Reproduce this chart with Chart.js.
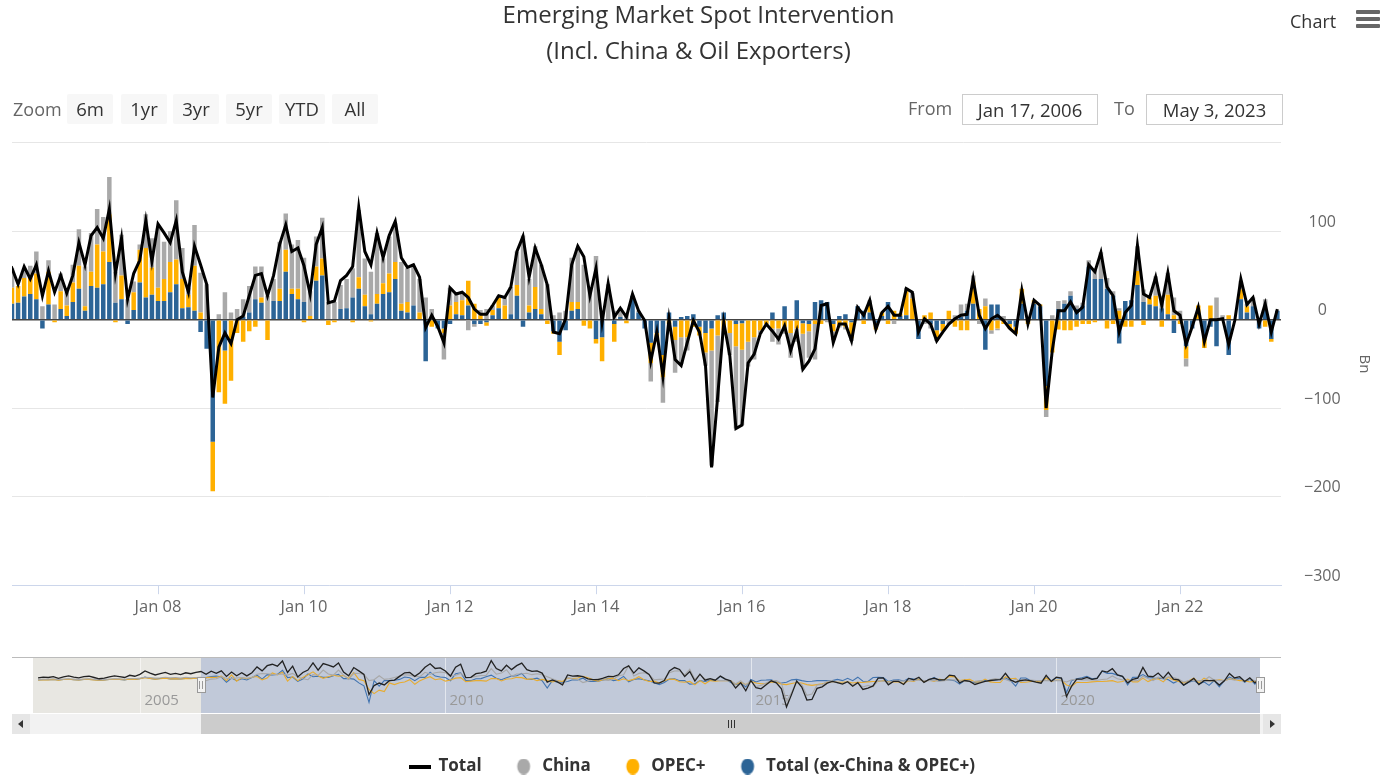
<!DOCTYPE html>
<html><head><meta charset="utf-8">
<script src="https://cdn.jsdelivr.net/npm/chart.js@4.4.0/dist/chart.umd.min.js"></script>
<style>
html,body{margin:0;padding:0;background:#fff;}
body{width:1385px;height:777px;position:relative;overflow:hidden;font-family:'Open Sans',sans-serif;}
#main{position:absolute;left:0;top:0;width:1385px;height:640px;}
#nav{position:absolute;left:0;top:640px;width:1385px;height:145px;}
.btn{position:absolute;top:94px;height:30px;width:46px;background:#f7f7f7;color:#333;font-size:18.5px;line-height:30px;text-align:center;border-radius:2px;}
.lbl{position:absolute;color:#666;font-size:18px;line-height:24px;}
.inp{position:absolute;top:94px;height:29px;border:1px solid #ccc;color:#333;font-size:18.5px;line-height:29px;text-align:center;background:#fff;}
.menu{position:absolute;left:1290px;top:9px;color:#333;font-size:18px;line-height:24px;}
.bar{position:absolute;left:1356px;width:24px;height:4px;background:#666;border-radius:1px;}
</style></head><body>
<div id="main"><canvas id="c1"></canvas></div>
<div id="nav"><canvas id="c2"></canvas></div>
<div class="lbl" style="left:13px;top:97px">Zoom</div>
<div class="btn" style="left:67px">6m</div>
<div class="btn" style="left:121px">1yr</div>
<div class="btn" style="left:173px">3yr</div>
<div class="btn" style="left:226px">5yr</div>
<div class="btn" style="left:279px">YTD</div>
<div class="btn" style="left:332px">All</div>
<div class="lbl" style="left:908px;top:96px">From</div>
<div class="inp" style="left:962px;width:134px">Jan 17, 2006</div>
<div class="lbl" style="left:1114px;top:96px">To</div>
<div class="inp" style="left:1146px;width:135px">May 3, 2023</div>
<div class="menu">Chart</div>
<div class="bar" style="top:10px"></div>
<div class="bar" style="top:17px"></div>
<div class="bar" style="top:24px"></div>
<script>
// ---- DATA (monthly, Apr 2003 .. Apr 2023; values in Bn) ----
// first value is April 2003; the main chart window starts Jan 2006
const firstMonth = '2003-04';
const total = [
 18,22,20,26,15,24,30,22,18,25,28,20,12,16,24,30,26,20,34,28,40,62,48,36,44,52,40,46,38,50,44,52,58,
 40,60,46,62,27,55,31,50,30,50,
 87,62,95,104,92,125,52,92,23,52,
 67,112,66,108,98,87,112,54,31,83,
 62,40,-88,-31,-15,-27,0,4,27,50,
 52,27,50,85,107,77,81,61,29,85,
 104,19,21,44,50,60,127,77,62,98,
 70,95,111,70,59,62,48,-9,5,-8,
 -26,36,29,31,25,12,6,6,16,27,
 25,37,77,94,48,81,62,39,-14,-16,
 1,62,83,71,27,58,-3,41,3,13,
 3,29,10,-1,-47,-14,-64,1,-45,-52,
 -26,-1,-14,-52,-167,-87,-3,-41,-123,-119,
 -49,-39,-16,-5,-13,-22,-7,-35,-13,-56,
 -47,-33,16,18,-26,-5,-5,-24,14,5,
 22,-11,8,15,5,5,35,31,-14,1,
 -5,-24,-14,-5,1,5,6,46,5,-10,
 1,5,-1,-10,-16,33,-5,22,16,-100,
 -35,10,10,20,8,14,62,54,76,37,
 27,-14,8,16,84,29,25,48,16,53,
 10,5,-28,-8,14,-25,0,0,1,-28,
 -1,46,17,25,-5,18,-14,12
];
const china = [
 8,10,9,12,8,10,12,10,8,10,12,9,6,8,10,12,11,9,14,12,16,22,20,16,18,22,18,20,16,22,18,20,22,
 0,10,12,25,15,13,17,20,15,20,
 41,45,44,40,39,42,35,46,23,12,
 6,38,33,67,42,35,67,35,8,46,
 45,40,0,6,31,8,12,20,30,37,
 35,27,25,53,41,50,55,50,28,34,
 46,20,20,27,33,33,76,41,48,69,
 28,42,44,47,38,44,38,25,12,0,
 -30,20,10,8,-12,-3,6,12,5,2,
 9,31,38,95,30,46,50,40,5,8,
 10,50,61,62,37,72,8,40,10,10,
 6,0,2,0,-21,0,-29,0,-37,-30,
 -15,0,0,-15,-130,-75,-5,-25,-93,-85,
 -28,-25,-4,0,-15,-18,-8,-28,-15,-40,
 -30,-40,0,-3,-10,-3,-3,-3,0,0,
 4,0,0,0,-5,0,4,6,0,-5,
 -5,-4,0,-5,5,14,8,7,-5,9,
 -4,-2,4,0,0,0,0,0,0,-8,
 5,9,4,5,4,3,7,11,30,12,
 5,3,0,0,28,14,0,22,14,25,
 20,10,-9,0,0,0,0,25,5,0,
 0,10,3,10,0,12,0,0
];
const opec = [
 5,6,5,7,3,7,9,6,5,8,8,5,3,4,7,9,8,6,10,8,12,18,14,10,12,15,11,13,11,14,12,15,18,
 19,21,20,29,0,37,-3,20,12,22,
 26,5,16,49,37,54,-3,27,0,20,
 37,56,31,15,25,34,28,33,14,51,
 8,0,-56,-82,-60,-69,-15,-25,-13,-8,
 6,-23,0,14,25,6,12,-3,4,16,
 19,-6,-3,0,0,-3,13,13,-2,11,
 12,21,19,8,12,0,8,0,-8,0,
 -5,16,14,17,28,18,5,-4,6,12,
 16,0,12,0,8,25,6,-5,-3,-15,
 0,10,8,-7,-10,-5,-27,0,-20,0,
 -4,0,0,0,-23,-10,-25,-5,-15,-20,
 -20,-8,-10,-22,-25,-18,-12,-15,-25,-30,
 -25,-20,-12,-5,-10,-10,-8,-15,-10,-12,
 -8,-5,-5,0,-8,-6,-8,-18,0,-5,
 10,-7,4,-5,10,3,27,24,0,5,
 8,-8,-8,10,-8,-12,-12,25,12,15,
 -12,-10,-5,-5,-8,17,-5,4,2,-27,
 -37,-11,-12,-12,-8,-5,-5,-3,0,-10,
 -5,10,-8,-8,16,-6,8,12,-8,22,
 5,-5,-14,0,16,-12,16,0,0,5,
 0,11,7,0,0,-8,-3,0
];
const exChinaOpec = [
 5,6,6,7,4,7,9,6,5,7,8,6,3,4,7,9,7,5,10,8,12,22,14,10,14,15,11,13,11,14,14,17,18,
 19,26,29,23,-10,17,0,12,4,20,
 35,10,38,36,40,65,19,23,-5,11,
 42,25,28,21,21,31,40,13,14,10,
 -14,-33,-138,0,-35,0,0,3,8,23,
 19,0,21,21,54,29,23,20,0,44,
 50,0,0,12,13,25,35,15,6,18,
 29,31,46,10,8,16,0,-47,0,-10,
 -10,-5,6,5,16,-5,-5,-3,5,13,
 0,6,27,-8,8,12,6,0,-13,-25,
 -12,10,12,0,0,-22,-20,0,-5,3,
 0,27,8,-10,-26,-15,-40,8,-8,3,
 4,6,-8,-15,-10,5,8,0,-5,-4,
 0,0,0,0,8,0,15,0,22,-4,
 -5,20,22,20,-5,4,6,-3,15,10,
 8,-4,4,20,0,4,5,0,-22,0,
 -5,-12,-5,0,0,3,10,18,0,-34,
 17,17,0,-5,-8,18,0,18,15,-75,
 0,12,18,27,12,16,60,46,46,35,
 27,-27,21,22,39,20,17,15,13,6,
 -15,0,-30,-10,0,-20,-8,-30,0,-40,
 0,23,8,15,-10,11,-22,10
];
const xTickMonths = [24,48,72,96,120,144,168,192];       // months after Jan 2006
const xTickLabels = ['Jan 08','Jan 10','Jan 12','Jan 14','Jan 16','Jan 18','Jan 20','Jan 22'];
const yTickValues = [-300,-200,-100,0,100,200];
const navYearMonths = [-12,48,108,168];
const navYearLabels = ['2005','2010','2015','2020'];

const SERIES_NAMES = ['Total','China','OPEC+','Total (ex-China & OPEC+)'];
const C_TOTAL = '#000000', C_CHINA = '#a9a9a9', C_OPEC = '#ffb000', C_EX = '#2c6496';
const F = "'Open Sans', sans-serif";

// position: months after 1 Jan 2006 (month-end points); index 32 = Dec 2005 -> 0
const pts = arr => arr.map((v, j) => ({x: j - 32, y: v}));
const fmt = v => (v < 0 ? '\u2212' + Math.abs(v) : String(v));

// ---------- MAIN CHART ----------
new Chart(document.getElementById('c1'), {
  type: 'bar',
  data: { datasets: [
    { type: 'line', label: SERIES_NAMES[0], data: pts(total), borderColor: C_TOTAL, borderWidth: 3,
      pointRadius: 0, tension: 0, order: -1, stack: 'line', borderJoinStyle: 'miter' },
    { label: SERIES_NAMES[3], data: pts(exChinaOpec), backgroundColor: C_EX, stack: 's' },
    { label: SERIES_NAMES[2], data: pts(opec), backgroundColor: C_OPEC, stack: 's' },
    { label: SERIES_NAMES[1], data: pts(china), backgroundColor: C_CHINA, stack: 's' }
  ]},
  options: {
    animation: false, responsive: true, maintainAspectRatio: false,
    datasets: { bar: { categoryPercentage: 1, barPercentage: 0.74 } },
    layout: { padding: { left: 12, right: 0, top: 0, bottom: 20 } },
    scales: {
      x: { type: 'linear', min: 0, max: 208.6, offset: false,
        afterBuildTicks: s => { s.ticks = xTickMonths.map(v => ({value: v})); },
        ticks: { autoSkip: false, maxRotation: 0, color: '#666', font: {family: F, size: 16.5},
          padding: 3, callback: v => xTickLabels[xTickMonths.indexOf(v)] ?? '' },
        grid: { offset: false, drawOnChartArea: false, drawTicks: true, tickLength: 9, color: '#ccd6eb' },
        border: { color: '#ccd6eb' }
      },
      y: { position: 'right', min: -300, max: 200, stacked: true,
        afterBuildTicks: s => { s.ticks = yTickValues.map(v => ({value: v})); },
        ticks: { color: '#666', font: {family: F, size: 16}, padding: 23, labelOffset: -9, crossAlign: 'center',
          callback: v => v === 200 ? '' : fmt(v) },
        grid: { drawTicks: false, color: c => c.tick && c.tick.value === 0 ? '#444' : '#e6e6e6',
          lineWidth: c => c.tick && c.tick.value === 0 ? 1.5 : 1 },
        border: { display: false },
        title: { display: true, text: 'Bn', color: '#666', font: {family: F, size: 15}, padding: {top: 12, bottom: 12} },
        afterFit: s => { s.width = 104; }
      }
    },
    plugins: {
      legend: { display: false }, tooltip: { enabled: false },
      title: { display: true, text: 'Emerging Market Spot Intervention', color: '#333',
        font: {family: F, size: 24, weight: 'normal'}, padding: {top: 2, bottom: 7} },
      subtitle: { display: true, text: '(Incl. China & Oil Exporters)', color: '#333',
        font: {family: F, size: 24, weight: 'normal'}, padding: {top: 0, bottom: 76} }
    }
  }
});

// ---------- NAVIGATOR ----------
function icon(kind, color) {
  const c = document.createElement('canvas');
  if (kind === 'line') { c.width = 22; c.height = 4; const g = c.getContext('2d'); g.fillStyle = color; g.fillRect(0, 0, 22, 4); }
  else { c.width = 16; c.height = 16; const g = c.getContext('2d'); g.fillStyle = color; g.beginPath(); g.ellipse(8, 8, 6.5, 8, 0, 0, Math.PI * 2); g.fill(); }
  return c;
}
const icons = [icon('line', C_TOTAL), icon('dot', C_CHINA), icon('dot', C_OPEC), icon('dot', C_EX)];
const BAND_TOP = 17, BAND_BOT = 73;

const navPlugin = {
  id: 'nav',
  beforeDatasetsDraw(chart) {
    const g = chart.ctx, x = chart.scales.x;
    const xL = x.getPixelForValue(-33), xR = x.getPixelForValue(208), xS = x.getPixelForValue(0);
    g.save();
    g.fillStyle = '#e8e7e2'; g.fillRect(xL, BAND_TOP, xR - xL, BAND_BOT - BAND_TOP);
    g.fillStyle = 'rgba(102,133,194,0.3)'; g.fillRect(xS, BAND_TOP, xR - xS, BAND_BOT - BAND_TOP);
    g.strokeStyle = 'rgba(255,255,255,0.55)'; g.lineWidth = 1;
    g.fillStyle = '#999'; g.font = "15px " + F; g.textBaseline = 'middle';
    navYearMonths.forEach((m, k) => {
      const px = Math.round(x.getPixelForValue(m)) + 0.5;
      g.beginPath(); g.moveTo(px, BAND_TOP); g.lineTo(px, BAND_BOT); g.stroke();
      g.fillText(navYearLabels[k], px + 4, 61);
    });
    g.restore();
  },
  afterDatasetsDraw(chart) {
    const g = chart.ctx, x = chart.scales.x;
    const xR = x.getPixelForValue(208), xS = x.getPixelForValue(0);
    g.save();
    g.strokeStyle = '#bbb'; g.lineWidth = 1;
    g.beginPath(); g.moveTo(12, BAND_TOP + 0.5); g.lineTo(1281, BAND_TOP + 0.5); g.stroke();
    [xS, xR].forEach(h => {
      g.fillStyle = '#f2f2f2'; g.strokeStyle = '#999';
      g.fillRect(Math.round(h) - 4, 37, 8, 16); g.strokeRect(Math.round(h) - 3.5, 37.5, 8, 15);
      g.beginPath(); g.moveTo(Math.round(h) - 1.5, 41); g.lineTo(Math.round(h) - 1.5, 49);
      g.moveTo(Math.round(h) + 1.5, 41); g.lineTo(Math.round(h) + 1.5, 49); g.stroke();
    });
    // scrollbar
    g.fillStyle = '#f2f2f2'; g.fillRect(12, 74, 1269, 20);
    g.fillStyle = '#e6e6e6'; g.fillRect(12, 74, 18, 20); g.fillRect(1263, 74, 18, 20);
    g.fillStyle = '#cccccc'; g.fillRect(xS, 74, xR - xS, 20);
    g.fillStyle = '#333';
    g.beginPath(); g.moveTo(18, 84); g.lineTo(23, 80); g.lineTo(23, 88); g.closePath(); g.fill();
    g.beginPath(); g.moveTo(1275, 84); g.lineTo(1270, 80); g.lineTo(1270, 88); g.closePath(); g.fill();
    const cx = Math.round((xS + xR) / 2);
    g.strokeStyle = '#333';
    [-3, 0, 3].forEach(d => { g.beginPath(); g.moveTo(cx + d + 0.5, 80); g.lineTo(cx + d + 0.5, 88); g.stroke(); });
    g.restore();
  }
};

new Chart(document.getElementById('c2'), {
  type: 'line',
  data: { datasets: [
    { label: SERIES_NAMES[0], data: pts(total), borderColor: '#222', borderWidth: 1.3 },
    { label: SERIES_NAMES[1], data: pts(china), borderColor: '#a8a8a8', borderWidth: 1.1 },
    { label: SERIES_NAMES[2], data: pts(opec), borderColor: '#e8ac30', borderWidth: 1.1 },
    { label: SERIES_NAMES[3], data: pts(exChinaOpec), borderColor: '#4274b0', borderWidth: 1.1 }
  ]},
  options: {
    animation: false, responsive: true, maintainAspectRatio: false,
    elements: { point: { radius: 0 }, line: { tension: 0 } },
    layout: { padding: { left: 0, right: 0, top: 17, bottom: 0 } },
    scales: {
      x: { type: 'linear', display: false, min: -39.48, max: 232.55 },
      y: { display: false, min: -287.5, max: 150 }
    },
    plugins: {
      tooltip: { enabled: false },
      legend: { position: 'bottom', labels: {
        color: '#333', font: {family: F, size: 17, weight: 'bold'}, usePointStyle: true,
        pointStyleWidth: 20, boxHeight: 16, padding: 32,
        generateLabels: ch => ch.data.datasets.map((d, i) => ({
          text: d.label, pointStyle: icons[i], fillStyle: 'rgba(0,0,0,0)', strokeStyle: 'rgba(0,0,0,0)',
          lineWidth: 0, datasetIndex: i, hidden: false, fontColor: '#333' }))
      } }
    }
  },
  plugins: [navPlugin]
});
</script>
</body></html>
